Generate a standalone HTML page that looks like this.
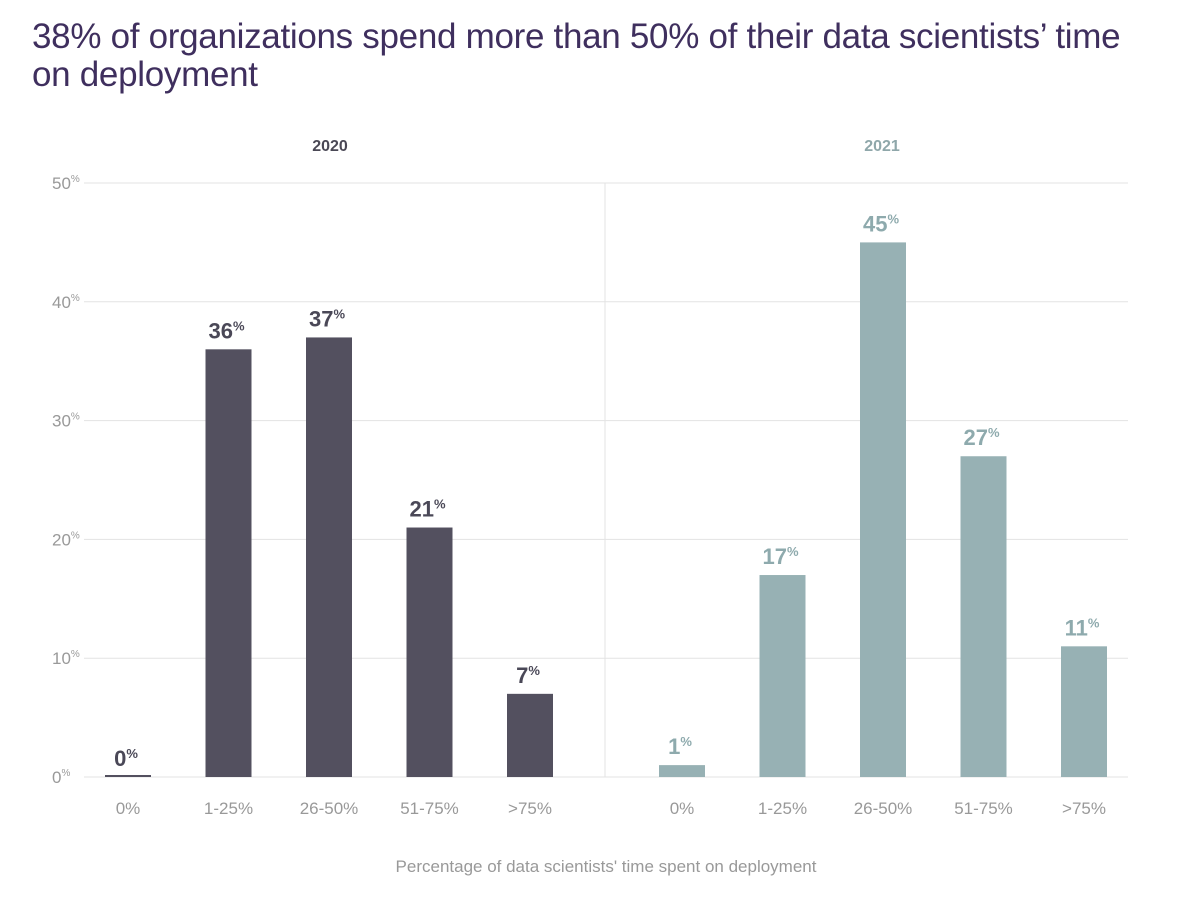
<!DOCTYPE html>
<html><head><meta charset="utf-8"><style>
body{margin:0;background:#fff;font-family:"Liberation Sans",sans-serif;}
#wrap{position:relative;width:1200px;height:911px;overflow:hidden}
h1{position:absolute;left:32px;top:18px;margin:0;font-weight:normal;font-size:35px;line-height:38px;color:#3f2f5e;letter-spacing:-0.3px}
</style></head><body><div id="wrap">
<h1>38% of organizations spend more than 50% of their data scientists’ time<br>on deployment</h1>
<svg id="c" width="1200" height="911" style="position:absolute;left:0;top:0"></svg>
</div>
<script>
const categories=["0%","1-25%","26-50%","51-75%",">75%"];
const values2020=[0,36,37,21,7];
const values2021=[1,17,45,27,11];
const yTicks=[0,10,20,30,40,50];
const years=["2020","2021"];
const svg=document.getElementById('c');const NS="http://www.w3.org/2000/svg";
function mk(t,a,p){const e=document.createElementNS(NS,t);for(const k in a)e.setAttribute(k,a[k]);(p||svg).appendChild(e);return e;}
const y0=777,y50=183;
function y(v){return y0-(y0-y50)*v/50;}
function x(panel,i){return (panel===0?128:682)+i*100.5;}
yTicks.forEach(t=>{
 const l=mk('line',{x1:84,x2:1128,y1:y(t),y2:y(t),stroke:'#e3e3e3','stroke-width':1});
 
 
 const tx=mk('text',{x:52,y:y(t)+6,'font-size':17,fill:'#999'});
 
 
 tx.textContent=t;const s=mk('tspan',{'font-size':10,dy:-7},tx);s.textContent='%';
});
const dv=mk('line',{x1:605,x2:605,y1:183,y2:777,stroke:'#e3e3e3'});


const colors=['#53505f','#97b1b4'];
const labelColors=['#4a4857','#8eaaad'];
[values2020,values2021].forEach((vals,p)=>{
 const h=mk('text',{x:p?882:330,y:151,'font-size':16,'font-weight':'bold',fill:p?'#8fa7aa':'#4a4855','text-anchor':'middle'});
 
 
 h.textContent=years[p];
 vals.forEach((v,i)=>{
  const cx=x(p,i);
  const hh=Math.max(y0-y(v),2);
  const r=mk('rect',{x:cx-23,y:y0-hh,width:46,height:hh,fill:colors[p]});
  
  
  const lb=mk('text',{x:cx-2,y:y(v)-11,'font-size':22,'font-weight':'bold',fill:labelColors[p],'text-anchor':'middle'});
  
  
  lb.textContent=v;const s=mk('tspan',{'font-size':13,dy:-8},lb);s.textContent='%';
  const cl=mk('text',{x:cx,y:814,'font-size':17,fill:'#999','text-anchor':'middle'});
  
  
  cl.textContent=categories[i];
 });
});
const xt=mk('text',{x:606,y:872,'font-size':17,fill:'#999','text-anchor':'middle'});


xt.textContent="Percentage of data scientists' time spent on deployment";
</script></body></html>
